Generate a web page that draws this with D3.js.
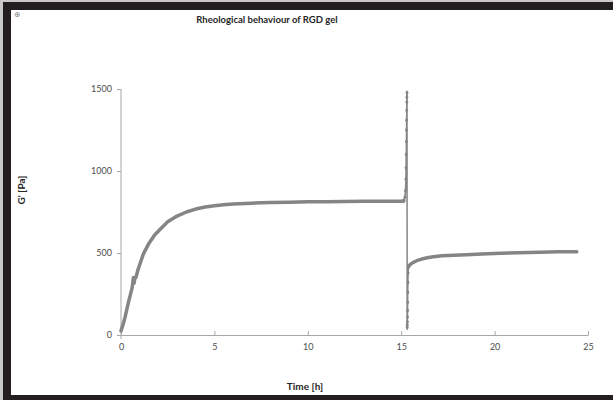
<!DOCTYPE html>
<html>
<head>
<meta charset="utf-8">
<script src="https://cdn.jsdelivr.net/npm/d3@7"></script>
<style>
  body { margin: 0; background: #c9c9c9; }
  svg { display: block; }
</style>
</head>
<body>
<div id="chart"></div>
<script>
// growth phase: time [h], G' [Pa]
var growthTime = [0, 0.1, 0.2, 0.3, 0.4, 0.5, 0.6, 0.66, 0.7, 0.74, 0.8, 0.9, 1.05, 1.2, 1.5, 1.8, 2.1, 2.5, 3.0, 3.5, 4.0, 4.5, 5.0, 5.5, 6.0, 7.0, 8.0, 9.0, 10.0, 11.0, 12.0, 13.0, 14.0, 15.0, 15.14];
var growthG    = [25, 60, 100, 150, 200, 245, 290, 350, 315, 345, 350, 395, 445, 495, 560, 610, 645, 690, 725, 750, 768, 780, 788, 794, 799, 804, 808, 810, 812, 813, 814, 815, 815, 816, 818];

// spike phase (individual markers visible)
var spikeTime = [15.14, 15.2, 15.23, 15.25, 15.26, 15.27, 15.28, 15.285, 15.29, 15.295, 15.3, 15.305, 15.31, 15.32, 15.325, 15.33, 15.335, 15.34, 15.345, 15.35, 15.36, 15.37, 15.38, 15.40];
var spikeG    = [818, 840, 880, 950, 1020, 1100, 1180, 1250, 1310, 1370, 1420, 1450, 1477, 45, 60, 80, 110, 150, 200, 260, 320, 380, 410, 418];

// recovery phase
var recoveryTime = [15.40, 15.5, 15.65, 15.83, 16.1, 16.4, 16.72, 17.2, 17.8, 18.5, 19.3, 20.3, 21.3, 22.4, 23.4, 24.4];
var recoveryG    = [418, 432, 443, 453, 463, 471, 477, 483, 487, 490, 494, 498, 502, 505, 507, 508];

var xTicks = [0, 5, 10, 15, 20, 25];
var yTicks = [0, 500, 1000, 1500];

var W = 613, H = 400;
var svg = d3.select("#chart").append("svg").attr("width", W).attr("height", H);

// frame
svg.append("rect").attr("x", 3).attr("y", 2).attr("width", W - 3).attr("height", H - 2).attr("fill", "#231f20");
svg.append("rect").attr("x", 11).attr("y", 10).attr("width", W - 11).attr("height", 385).attr("fill", "#ffffff");

var x = d3.scaleLinear().domain([0, 25]).range([121, 588]);
var y = d3.scaleLinear().domain([0, 1500]).range([335, 89]);

var axisColor = "#a6a6a6";
var labelColor = "#4d4d4d";

// y axis, ticks outside
var yAxis = svg.append("g").attr("transform", "translate(" + x(0) + ",0)")
  .call(d3.axisLeft(y).tickValues(yTicks).tickFormat(d3.format("d")).tickSize(4).tickPadding(5));
// x axis, ticks inside
var xAxis = svg.append("g").attr("transform", "translate(0," + y(0) + ")")
  .call(d3.axisBottom(x).tickValues(xTicks).tickFormat(d3.format("d")).tickSizeInner(-4).tickSizeOuter(0).tickPadding(9));

[xAxis, yAxis].forEach(function(a){
  a.select(".domain").attr("stroke", axisColor);
  a.selectAll(".tick line").attr("stroke", axisColor);
  a.selectAll(".tick text").attr("fill", labelColor).style("font-family", "Lato, sans-serif").style("font-size", "9px");
});
yAxis.select(".domain").attr("d", "M0," + y(1500) + "V" + y(0));
// small downward stub at origin
svg.append("line").attr("x1", x(0)).attr("x2", x(0)).attr("y1", y(0)).attr("y2", y(0) + 4).attr("stroke", axisColor);

var lineColor = "#858585";
var line = d3.line().x(function(d){ return x(d[0]); }).y(function(d){ return y(d[1]); });

var growth = d3.zip(growthTime, growthG);
var spike = d3.zip(spikeTime, spikeG);
var recovery = d3.zip(recoveryTime, recoveryG);

svg.append("path").datum(growth).attr("d", line).attr("fill", "none")
  .attr("stroke", lineColor).attr("stroke-width", 3.5).attr("stroke-linejoin", "round").attr("stroke-linecap", "round");
svg.append("path").datum(spike).attr("d", line).attr("fill", "none")
  .attr("stroke", lineColor).attr("stroke-width", 1.5);
svg.append("path").datum(recovery).attr("d", line).attr("fill", "none")
  .attr("stroke", lineColor).attr("stroke-width", 3.5).attr("stroke-linejoin", "round").attr("stroke-linecap", "round");

svg.selectAll("path.mk").data(spike).enter().append("path").attr("class", "mk")
  .attr("d", d3.symbol().type(d3.symbolDiamond).size(9))
  .attr("transform", function(d){ return "translate(" + x(d[0]) + "," + y(d[1]) + ")"; })
  .attr("fill", lineColor);

// texts
svg.append("text").attr("x", 267).attr("y", 23).attr("text-anchor", "middle")
  .style("font-family", "Lato, sans-serif").style("font-weight", "bold").style("font-size", "9.5px")
  .attr("fill", "#262626").text("Rheological behaviour of RGD gel");

svg.append("text").attr("x", 305).attr("y", 390).attr("text-anchor", "middle")
  .style("font-family", "Lato, sans-serif").style("font-weight", "bold").style("font-size", "10px")
  .attr("fill", "#262626").text("Time [h]");

svg.append("text").attr("transform", "translate(25,190) rotate(-90)").attr("text-anchor", "middle")
  .style("font-family", "Lato, sans-serif").style("font-weight", "bold").style("font-size", "10px")
  .attr("fill", "#262626").text("G' [Pa]");

svg.append("text").attr("x", 17).attr("y", 17).attr("text-anchor", "middle")
  .style("font-family", "DejaVu Sans, sans-serif").style("font-size", "8px")
  .attr("fill", "#888").text("\u2295");
</script>
</body>
</html>
